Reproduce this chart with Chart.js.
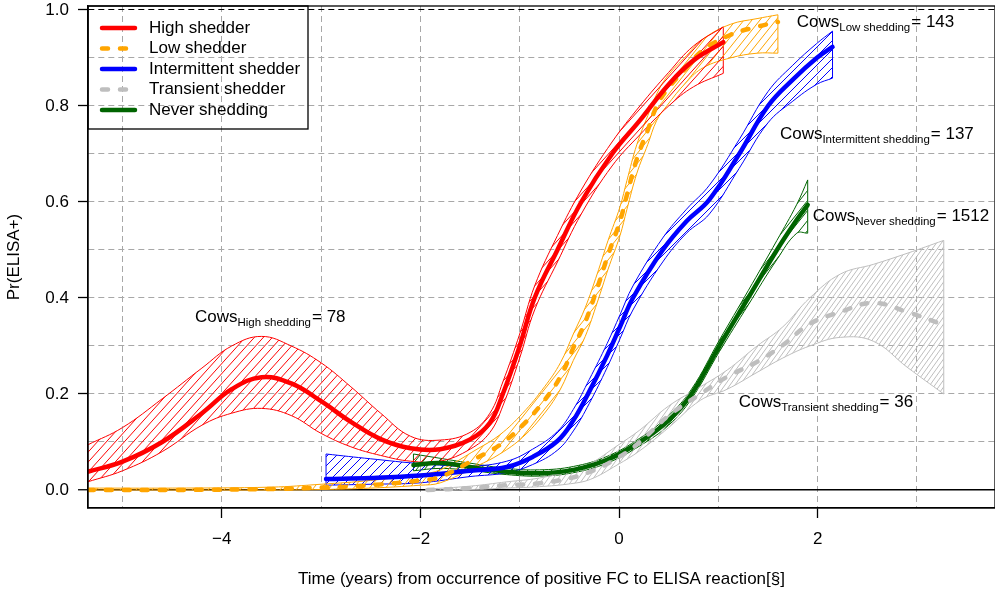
<!DOCTYPE html>
<html>
<head>
<meta charset="utf-8">
<script src="https://cdn.jsdelivr.net/npm/chart.js@4"></script>
<style>
  html, body { margin: 0; padding: 0; background: #fff; }
</style>
</head>
<body>
<canvas id="myChart" width="995" height="594"></canvas>
<script>
// axis ticks (grid every step, labels on some)
const xTicks = [-5, -4, -3, -2, -1, 0, 1, 2, 3];
const xLabels = [-4, -2, 0, 2];
const yTicks = [0, 0.1, 0.2, 0.3, 0.4, 0.5, 0.6, 0.7, 0.8, 0.9, 1.0];
const yLabels = [0, 0.2, 0.4, 0.6, 0.8, 1.0];

// High shedder
const highT    = [-5.35, -5.0, -4.6, -4.2, -3.9, -3.6, -3.3, -3.0, -2.7, -2.4, -2.1, -1.8, -1.5, -1.3, -1.17, -1.0, -0.85, -0.62, -0.38, -0.07, 0.21, 0.5, 0.75, 1.05];
const highMean = [0.038, 0.059, 0.10, 0.16, 0.21, 0.235, 0.222, 0.185, 0.142, 0.106, 0.087, 0.085, 0.105, 0.14, 0.20, 0.30, 0.40, 0.50, 0.60, 0.70, 0.77, 0.845, 0.895, 0.933];
const highHi   = [0.094, 0.13, 0.19, 0.254, 0.30, 0.32, 0.30, 0.265, 0.215, 0.16, 0.112, 0.104, 0.12, 0.16, 0.225, 0.325, 0.425, 0.53, 0.625, 0.725, 0.80, 0.87, 0.925, 0.965];
const highLo   = [0.017, 0.04, 0.08, 0.135, 0.16, 0.17, 0.155, 0.118, 0.09, 0.072, 0.06, 0.06, 0.085, 0.12, 0.175, 0.275, 0.375, 0.475, 0.575, 0.675, 0.74, 0.80, 0.84, 0.868];

// Low shedder
const lowT    = [-5.35, -4.5, -3.5, -3.0, -2.5, -2.0, -1.8, -1.43, -1.2, -0.97, -0.75, -0.59, -0.46, -0.34, -0.22, -0.11, 0.01, 0.08, 0.18, 0.29, 0.38, 0.48, 0.68, 0.85, 1.12, 1.39, 1.6];
const lowMean = [0.0, 0.0, 0.002, 0.005, 0.01, 0.02, 0.027, 0.067, 0.094, 0.135, 0.187, 0.236, 0.296, 0.35, 0.42, 0.49, 0.56, 0.615, 0.69, 0.75, 0.80, 0.833, 0.88, 0.917, 0.948, 0.965, 0.975];
const lowHi   = [0.004, 0.004, 0.006, 0.012, 0.02, 0.033, 0.042, 0.085, 0.115, 0.16, 0.215, 0.265, 0.325, 0.38, 0.45, 0.52, 0.59, 0.645, 0.72, 0.78, 0.825, 0.86, 0.905, 0.94, 0.97, 0.982, 0.99];
const lowLo   = [0.0, 0.0, 0.0, 0.001, 0.004, 0.01, 0.015, 0.05, 0.075, 0.11, 0.16, 0.21, 0.27, 0.32, 0.39, 0.46, 0.53, 0.585, 0.66, 0.72, 0.77, 0.80, 0.85, 0.88, 0.90, 0.91, 0.91];

// Intermittent shedder
const interT    = [-2.95, -2.5, -2.0, -1.5, -1.13, -0.87, -0.62, -0.46, -0.3, -0.12, 0.01, 0.14, 0.44, 0.68, 0.91, 1.21, 1.5, 1.75, 1.99, 2.15];
const interMean = [0.023, 0.025, 0.03, 0.04, 0.048, 0.069, 0.102, 0.145, 0.205, 0.28, 0.34, 0.40, 0.50, 0.56, 0.605, 0.70, 0.80, 0.855, 0.90, 0.923];
const interHi   = [0.075, 0.065, 0.055, 0.05, 0.06, 0.085, 0.122, 0.168, 0.23, 0.305, 0.365, 0.425, 0.525, 0.585, 0.635, 0.73, 0.83, 0.885, 0.93, 0.956];
const interLo   = [0.01, 0.012, 0.015, 0.028, 0.036, 0.053, 0.083, 0.123, 0.18, 0.255, 0.315, 0.375, 0.475, 0.535, 0.575, 0.67, 0.765, 0.81, 0.845, 0.858];

// Transient shedder
const transT    = [-1.93, -1.5, -1.13, -0.8, -0.49, -0.29, -0.02, 0.21, 0.5, 0.82, 1.09, 1.39, 1.65, 1.92, 2.23, 2.56, 2.9, 3.27];
const transMean = [0.0, 0.004, 0.01, 0.014, 0.025, 0.038, 0.066, 0.1, 0.155, 0.2, 0.236, 0.267, 0.302, 0.346, 0.371, 0.39, 0.371, 0.344];
const transHi   = [0.002, 0.008, 0.017, 0.025, 0.04, 0.055, 0.092, 0.125, 0.175, 0.215, 0.25, 0.30, 0.34, 0.40, 0.45, 0.47, 0.493, 0.52];
const transLo   = [0.0, 0.001, 0.004, 0.007, 0.013, 0.022, 0.052, 0.082, 0.13, 0.187, 0.21, 0.245, 0.275, 0.30, 0.318, 0.31, 0.256, 0.2];

// Never shedding
const neverT    = [-2.07, -1.8, -1.47, -1.13, -0.8, -0.46, -0.12, 0.21, 0.5, 0.73, 1.01, 1.3, 1.59, 1.79, 1.9];
const neverMean = [0.052, 0.056, 0.047, 0.038, 0.035, 0.042, 0.063, 0.1, 0.145, 0.2, 0.3, 0.4, 0.5, 0.563, 0.594];
const neverHi   = [0.075, 0.066, 0.055, 0.045, 0.042, 0.049, 0.07, 0.108, 0.155, 0.21, 0.312, 0.415, 0.52, 0.595, 0.646];
const neverLo   = [0.04, 0.045, 0.04, 0.032, 0.029, 0.036, 0.056, 0.092, 0.135, 0.19, 0.288, 0.385, 0.48, 0.535, 0.535];

// "Cows_sub = n" notes
const noteT   = [-4.27, 1.79, 1.62, 1.95, 1.205];
const noteP   = [0.35, 0.965, 0.731, 0.56, 0.173];
const noteSub = ['High shedding', 'Low shedding', 'Intermittent shedding', 'Never shedding', 'Transient shedding'];
const noteN   = [78, 143, 137, 1512, 36];

const FONT = 'Liberation Sans, Arial, sans-serif';
const canvasEl = document.getElementById('myChart');
const c2d = canvasEl.getContext('2d');

// diagonal hatching like R's polygon(density=...)
function hatch(color, w, h) {
  const c = document.createElement('canvas');
  c.width = w; c.height = h;
  const g = c.getContext('2d');
  g.strokeStyle = color;
  g.lineWidth = 1;
  g.beginPath();
  for (let k = -1; k <= 1; k++) {
    g.moveTo(k * w, h);
    g.lineTo(k * w + w, 0);
  }
  g.stroke();
  return c2d.createPattern(c, 'repeat');
}

const pts = (t, v) => t.map((x, i) => ({x: x, y: v[i]}));
const SMOOTH = 0.4;

const groups = [
  {label: 'High shedder',         color: '#ff0000', dash: [],      t: highT,  mean: highMean,  hi: highHi,  lo: highLo,  hw: 9, hh: 10},
  {label: 'Low shedder',          color: '#ffa500', dash: [6, 12], t: lowT,   mean: lowMean,   hi: lowHi,   lo: lowLo,   hw: 8, hh: 10},
  {label: 'Intermittent shedder', color: '#0000ff', dash: [],      t: interT, mean: interMean, hi: interHi, lo: interLo, hw: 9, hh: 9},
  {label: 'Transient shedder',    color: '#bebebe', dash: [6, 12], t: transT, mean: transMean, hi: transHi, lo: transLo, hw: 5, hh: 7},
  {label: 'Never shedding',       color: '#006400', dash: [],      t: neverT, mean: neverMean, hi: neverHi, lo: neverLo, hw: 8, hh: 10}
];

const datasets = [];
// mean curves first so they are painted on top
groups.forEach(g => {
  datasets.push({
    label: g.label, isMean: true,
    data: pts(g.t, g.mean),
    borderColor: g.color, borderWidth: 4.5, borderDash: g.dash,
    borderCapStyle: 'round', borderJoinStyle: 'round',
    pointRadius: 0, fill: false, tension: SMOOTH
  });
});
// confidence bands (upper line, lower line filled to upper)
groups.forEach(g => {
  datasets.push({
    data: pts(g.t, g.hi),
    borderColor: g.color, borderWidth: 1, pointRadius: 0, fill: false,
    tension: SMOOTH
  });
  datasets.push({
    data: pts(g.t, g.lo),
    borderColor: g.color, borderWidth: 1, pointRadius: 0,
    fill: '-1', backgroundColor: hatch(g.color, g.hw, g.hh),
    tension: SMOOTH
  });
});
// closing edges of the band polygons
groups.forEach(g => {
  const n = g.t.length - 1;
  [0, n].forEach(i => {
    datasets.push({
      data: [{x: g.t[i], y: g.lo[i]}, {x: g.t[i], y: g.hi[i]}],
      borderColor: g.color, borderWidth: 1, pointRadius: 0, fill: false
    });
  });
});

const isY = (v, w) => Math.abs(v - w) < 1e-9;

const decor = {
  id: 'decor',
  afterDraw(chart) {
    const {ctx, chartArea: a, scales: {x, y}} = chart;
    ctx.save();
    ctx.strokeStyle = '#000';
    ctx.lineWidth = 1.3;
    ctx.strokeRect(a.left, a.top, a.right - a.left, a.bottom - a.top);

    // legend box
    const lx = a.left, ly = a.top;
    ctx.strokeRect(lx, ly, 220, 123);
    chart.data.datasets.filter(d => d.isMean).forEach((d, i) => {
      const yy = ly + 22 + i * 20.5;
      ctx.beginPath();
      ctx.setLineDash(d.borderDash);
      ctx.lineCap = 'round';
      ctx.lineWidth = 4.5;
      ctx.strokeStyle = d.borderColor;
      ctx.moveTo(lx + 14, yy);
      ctx.lineTo(lx + 47, yy);
      ctx.stroke();
      ctx.setLineDash([]);
      ctx.fillStyle = '#000';
      ctx.font = '17px ' + FONT;
      ctx.textBaseline = 'middle';
      ctx.textAlign = 'left';
      ctx.fillText(d.label, lx + 61, yy);
    });

    // notes
    ctx.textBaseline = 'alphabetic';
    ctx.fillStyle = '#000';
    noteT.forEach((t, i) => {
      let px = x.getPixelForValue(t);
      const py = y.getPixelForValue(noteP[i]);
      ctx.font = '17px ' + FONT;
      ctx.fillText('Cows', px, py);
      px += ctx.measureText('Cows').width;
      ctx.font = '11.5px ' + FONT;
      ctx.fillText(noteSub[i], px, py + 4);
      px += ctx.measureText(noteSub[i]).width + 1;
      ctx.font = '17px ' + FONT;
      ctx.fillText('= ' + noteN[i], px, py);
    });
    ctx.restore();
  }
};

Chart.defaults.font.family = FONT;
Chart.defaults.font.size = 17;
Chart.defaults.color = '#000';

new Chart(canvasEl, {
  type: 'line',
  data: {datasets: datasets},
  plugins: [decor],
  options: {
    responsive: false,
    animation: false,
    layout: {padding: {top: 6, left: 0, right: 0, bottom: 0}},
    plugins: {legend: {display: false}, tooltip: {enabled: false}},
    scales: {
      x: {
        type: 'linear',
        min: -5.347,
        max: 3.786,
        afterBuildTicks: s => { s.ticks = xTicks.map(v => ({value: v})); },
        afterFit: s => { s.height = 86; s.paddingLeft = 0; s.paddingRight = 0; },
        ticks: {
          autoSkip: false, maxRotation: 0, padding: 11,
          callback: v => xLabels.includes(v) ? (v < 0 ? '\u2212' + Math.abs(v) : String(v)) : ''
        },
        grid: {
          color: '#a8a8a8', lineWidth: 1, tickLength: 10, tickWidth: 1.3,
          tickColor: c => (c.tick && xLabels.includes(c.tick.value)) ? '#000' : 'rgba(0,0,0,0)'
        },
        border: {color: '#000', width: 1.3, dash: c => c.tick ? [6, 4] : []},
        title: {
          display: true,
          text: 'Time (years) from occurrence of positive FC to ELISA reaction[\u00a7]',
          font: {size: 17},
          padding: {top: 0, bottom: 4}
        }
      },
      y: {
        type: 'linear',
        min: -0.0375,
        max: 1.0083,
        afterBuildTicks: s => { s.ticks = yTicks.map(v => ({value: v})); },
        afterFit: s => { s.width = 88; s.paddingTop = 0; s.paddingBottom = 0; },
        ticks: {
          autoSkip: false, padding: 9,
          callback: v => yLabels.some(w => isY(v, w)) ? v.toFixed(1) : ''
        },
        grid: {
          color: c => (c.tick && (isY(c.tick.value, 0) || isY(c.tick.value, 1))) ? '#000' : '#a8a8a8',
          lineWidth: c => (c.tick && isY(c.tick.value, 0)) ? 1.5 : 1,
          tickLength: 10, tickWidth: 1.3,
          tickColor: c => (c.tick && yLabels.some(w => isY(c.tick.value, w))) ? '#000' : 'rgba(0,0,0,0)'
        },
        border: {
          color: '#000', width: 1.3,
          dash: c => (c.tick && !isY(c.tick.value, 0)) ? [6, 4] : []
        },
        title: {
          display: true,
          text: 'Pr(ELISA+)',
          font: {size: 17},
          padding: {top: 4, bottom: 0}
        }
      }
    }
  }
});
</script>
</body>
</html>
